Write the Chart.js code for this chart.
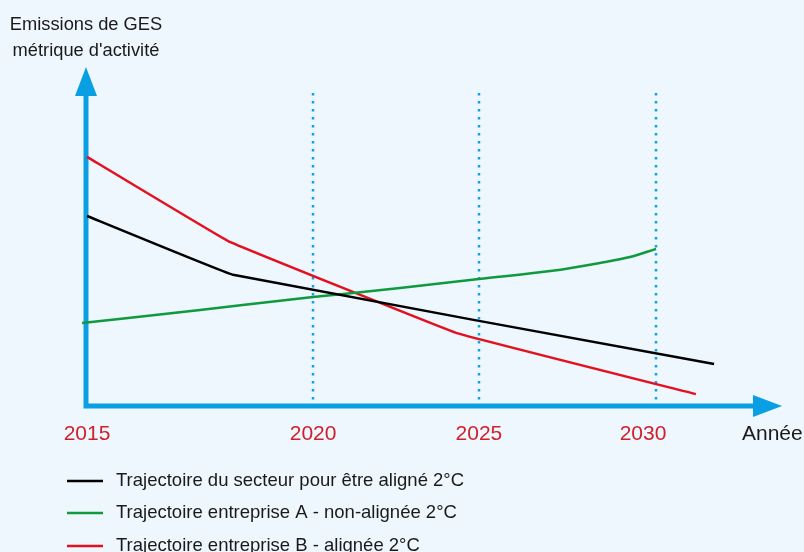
<!DOCTYPE html>
<html>
<head>
<meta charset="utf-8">
<script src="https://cdn.jsdelivr.net/npm/chart.js@4"></script>
<style>
  html, body { margin: 0; padding: 0; background: #eef6fe; }
  #wrap { width: 804px; height: 552px; }
</style>
</head>
<body>
<div id="wrap"><canvas id="chart" width="804" height="552"></canvas></div>
<script>
// schematic timeline (years along the drawn axis)
var tickLabels = ['2015', '2020', '2025', '2030'];
var tickYears = [2015, 2020.96, 2025.33, 2030];

var seriesNames = [
    'Trajectoire du secteur pour être aligné 2°C',
    'Trajectoire entreprise A - non-alignée 2°C',
    'Trajectoire entreprise B - alignée 2°C'
];

// emissions (arbitrary units 0-100)
var secteurYears = [2015, 2018.85, 2031.53];
var secteurValues = [60.7, 41.9, 13.4];

var entrepriseAYears = [2014.87, 2017.98, 2020.96, 2023.25, 2025.33, 2027.21, 2028.52, 2029.31, 2030];
var entrepriseAValues = [26.5, 30.7, 34.8, 37.7, 40.6, 43.1, 45.7, 47.6, 50.2];

var entrepriseBYears = [2015, 2018.72, 2024.75, 2031.05];
var entrepriseBValues = [79.6, 52.7, 23.3, 3.8];

var FONT = "'Liberation Sans', Arial, sans-serif";
var AXIS_BLUE = '#0a9fe3';
var colors = ['#000000', '#0f9a3e', '#e3101e'];

function toPoints(xs, ys) {
    return xs.map(function (x, i) { return { x: x, y: ys[i] }; });
}

// axes with arrows, dotted year lines, labels and legend
var schemaPlugin = {
    id: 'schema',
    beforeDatasetsDraw: function (chart) {
        var ctx = chart.ctx;
        var area = chart.chartArea;
        var xs = chart.scales.x;

        ctx.save();
        // dotted vertical lines
        ctx.strokeStyle = '#0fa2ec';
        ctx.lineWidth = 2.5;
        ctx.setLineDash([2.5, 5.5]);
        tickYears.slice(1).forEach(function (yr) {
            var px = Math.round(xs.getPixelForValue(yr));
            ctx.beginPath();
            ctx.moveTo(px, area.top);
            ctx.lineTo(px, area.bottom);
            ctx.stroke();
        });
        ctx.setLineDash([]);

        // axes
        var ox = area.left - 1, oy = area.bottom;
        ctx.strokeStyle = AXIS_BLUE;
        ctx.lineWidth = 5;
        ctx.beginPath();
        ctx.moveTo(ox, 95);
        ctx.lineTo(ox, oy + 2.5);
        ctx.moveTo(ox - 2.5, oy);
        ctx.lineTo(area.right - 28, oy);
        ctx.stroke();

        ctx.fillStyle = AXIS_BLUE;
        ctx.beginPath();
        ctx.moveTo(ox, 67);
        ctx.lineTo(ox - 11, 96);
        ctx.lineTo(ox + 11, 96);
        ctx.closePath();
        ctx.fill();
        ctx.beginPath();
        ctx.moveTo(area.right, oy);
        ctx.lineTo(area.right - 29, oy - 11);
        ctx.lineTo(area.right - 29, oy + 11);
        ctx.closePath();
        ctx.fill();
        ctx.restore();
    },
    afterDraw: function (chart) {
        var ctx = chart.ctx;
        var xs = chart.scales.x;

        ctx.save();
        // year labels
        ctx.font = '21px ' + FONT;
        ctx.fillStyle = '#d0202a';
        ctx.textAlign = 'center';
        ctx.textBaseline = 'middle';
        tickLabels.forEach(function (lbl, i) {
            var px = xs.getPixelForValue(tickYears[i]);
            if (i === tickLabels.length - 1) px -= 13;
            ctx.fillText(lbl, px, 434);
        });

        // axis titles
        ctx.fillStyle = '#1a1a1a';
        ctx.textAlign = 'left';
        ctx.fillText('Année', 742, 434);
        ctx.font = '18.3px ' + FONT;
        ctx.textAlign = 'center';
        ctx.fillText('Emissions de GES', 86, 25);
        ctx.fillText("métrique d'activité", 86, 51);

        // legend
        ctx.font = '18.5px ' + FONT;
        ctx.textAlign = 'left';
        ctx.lineWidth = 2.5;
        var rows = [481, 513, 546];
        seriesNames.forEach(function (name, i) {
            ctx.strokeStyle = colors[i];
            ctx.beginPath();
            ctx.moveTo(67, rows[i]);
            ctx.lineTo(103, rows[i]);
            ctx.stroke();
            ctx.fillStyle = '#1a1a1a';
            ctx.fillText(name, 116, rows[i]);
        });
        ctx.restore();
    }
};

new Chart(document.getElementById('chart'), {
    type: 'line',
    data: {
        datasets: [{
            label: seriesNames[0],
            data: toPoints(secteurYears, secteurValues),
            borderColor: colors[0],
            borderWidth: 2.5,
            pointRadius: 0,
            tension: 0.05,
            clip: false
        }, {
            label: seriesNames[1],
            data: toPoints(entrepriseAYears, entrepriseAValues),
            borderColor: colors[1],
            borderWidth: 2.5,
            pointRadius: 0,
            cubicInterpolationMode: 'monotone',
            clip: false
        }, {
            label: seriesNames[2],
            data: toPoints(entrepriseBYears, entrepriseBValues),
            borderColor: colors[2],
            borderWidth: 2.5,
            pointRadius: 0,
            tension: 0.05,
            clip: false
        }]
    },
    options: {
        responsive: false,
        animation: false,
        layout: { padding: { left: 87, right: 22, top: 93, bottom: 146 } },
        plugins: {
            legend: { display: false },
            tooltip: { enabled: false }
        },
        scales: {
            x: { type: 'linear', min: 2015, max: 2033.32, display: false },
            y: { type: 'linear', min: 0, max: 100, display: false }
        }
    },
    plugins: [schemaPlugin]
});
</script>
</body>
</html>
